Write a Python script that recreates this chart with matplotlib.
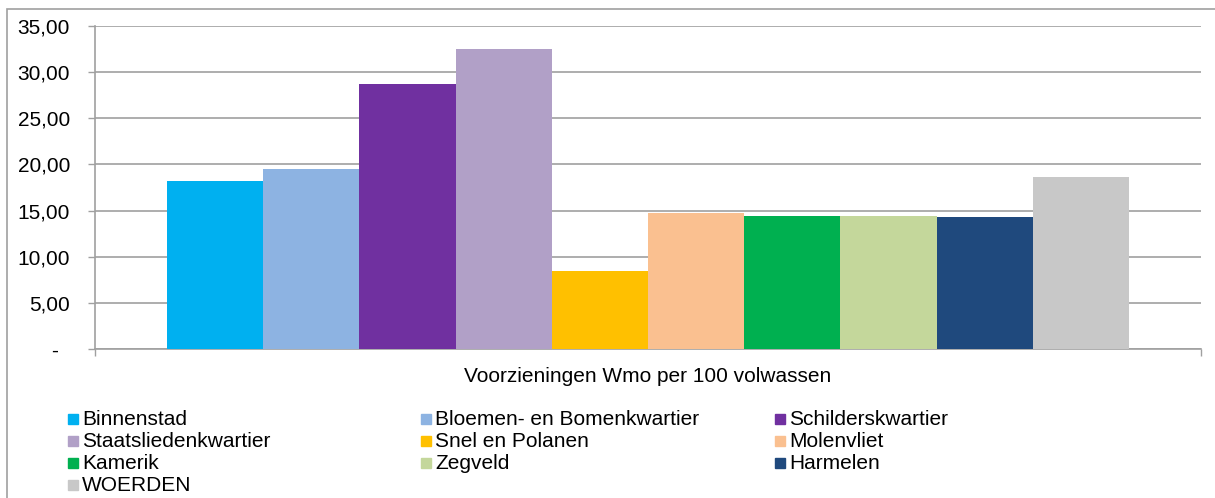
import numpy as np
import matplotlib.pyplot as plt
from matplotlib.patches import Rectangle

# DATA
wijken = ['Binnenstad', 'Bloemen- en Bomenkwartier', 'Schilderskwartier',
          'Staatsliedenkwartier', 'Snel en Polanen', 'Molenvliet',
          'Kamerik', 'Zegveld', 'Harmelen', 'WOERDEN']
waarden = [18.2, 19.5, 28.7, 32.5, 8.45, 14.7, 14.4, 14.4, 14.3, 18.6]
kleuren = ['#00B0F0', '#8DB3E2', '#7030A0', '#B1A0C7', '#FFC000',
           '#FAC090', '#00B050', '#C4D79B', '#1F497D', '#C8C8C8']
yticks = [0, 5, 10, 15, 20, 25, 30, 35]
ylabels = ['-  ', '5,00', '10,00', '15,00', '20,00', '25,00', '30,00', '35,00']
xtitel = 'Voorzieningen Wmo per 100 volwassen'

plt.rcParams['font.family'] = ['Liberation Sans', 'DejaVu Sans']
grijs = '#A0A0A0'

W, H = 1215, 498
fig = plt.figure(figsize=(W / 100, H / 100), dpi=100)
ax = fig.add_axes([95 / W, 1 - 349 / H, (1201 - 95) / W, (349 - 26) / H])

x = np.arange(len(waarden))
ax.bar(x, waarden, width=1.0, color=kleuren, zorder=3)

ax.set_xlim(-1.25, len(waarden) + 0.25)
ax.set_ylim(0, 35)
ax.set_yticks(yticks)
ax.set_yticklabels(ylabels, fontsize=15)
ax.set_xticks([-1.25, len(waarden) + 0.25])
ax.set_xticklabels([])
ax.tick_params(axis='y', length=5, width=1, color=grijs, pad=13)
ax.tick_params(axis='x', length=5, width=1, color=grijs)
ax.yaxis.grid(True, color=grijs, linewidth=1.2, zorder=0)
for s in ['top', 'right']:
    ax.spines[s].set_visible(False)
for s in ['left', 'bottom']:
    ax.spines[s].set_color(grijs)
    ax.spines[s].set_linewidth(1.2)

fig.text((95 + 1201) / 2 / W, 1 - 377 / H, xtitel, fontsize=15,
         ha='center', va='center')

# legenda, 3 kolommen, rij voor rij
kol_x = [68, 421, 775]
rij_y = [419, 441, 463, 485]
for i, (naam, kleur) in enumerate(zip(wijken, kleuren)):
    r, k = divmod(i, 3)
    px, py = kol_x[k], rij_y[r]
    fig.patches.append(Rectangle((px / W, 1 - (py + 5) / H), 10 / W, 10 / H,
                                 transform=fig.transFigure, color=kleur))
    fig.text((px + 14) / W, 1 - py / H, naam, fontsize=15, va='center')

# rand om de grafiek
fig.patches.append(Rectangle((7 / W, -0.05), 1.1, 1 - 9 / H + 0.05,
                             transform=fig.transFigure, fill=False,
                             edgecolor=grijs, linewidth=1.2))

fig.savefig('out.png', dpi=100)
